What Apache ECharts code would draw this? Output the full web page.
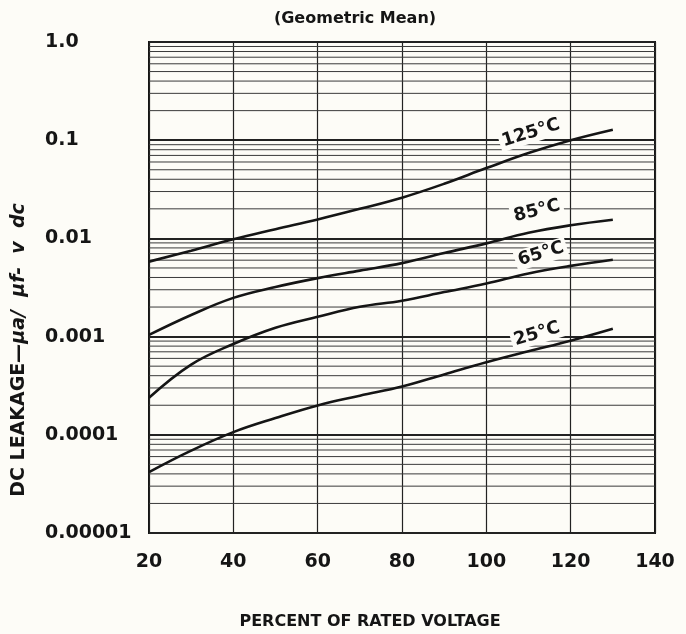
<!DOCTYPE html>
<html>
<head>
<meta charset="utf-8">
<script src="https://cdn.jsdelivr.net/npm/echarts@6/dist/echarts.min.js"></script>
<style>
  html, body { margin: 0; padding: 0; background: #fdfcf7; }
  #chart { width: 686px; height: 634px; }
</style>
</head>
<body>
<div id="chart"></div>
<script>
// ---- data ----
const voltage = [20, 30, 40, 50, 60, 70, 80, 90, 100, 110, 120, 130];
const leak125 = [0.0058, 0.0075, 0.0098, 0.0124, 0.0156, 0.020, 0.026, 0.036, 0.052, 0.074, 0.100, 0.128];
const leak85  = [0.00104, 0.00166, 0.00248, 0.0032, 0.00394, 0.0047, 0.0056, 0.0071, 0.0089, 0.0114, 0.0136, 0.0155];
const leak65  = [0.000238, 0.000518, 0.00084, 0.00123, 0.00159, 0.00201, 0.00232, 0.00284, 0.00347, 0.0044, 0.00525, 0.00605];
const leak25  = [0.0000417, 0.000069, 0.0001064, 0.000148, 0.000199, 0.00025, 0.00031, 0.000412, 0.000547, 0.000708, 0.000908, 0.0012];
const seriesNames = ['125°C', '85°C', '65°C', '25°C'];
const yTickLabels = ['0.00001', '0.0001', '0.001', '0.01', '0.1', '1.0'];
const decades = [0.00001, 0.0001, 0.001, 0.01, 0.1];
const minorSteps = [2, 3, 4, 5, 6, 7, 8, 9];
const xMin = 20, xMax = 140;

const FONT = '"DejaVu Sans", sans-serif';
const INK = '#151515';
const PAPER = '#fdfcf7';

function pairs(ys) { return voltage.map((x, i) => [x, ys[i]]); }

const series = [];
// minor graph-paper lines (2..9 within each decade), drawn through the log axis
decades.forEach(d => minorSteps.forEach(k => {
  const v = k * d;
  series.push({
    type: 'line', silent: true, showSymbol: false, symbol: 'none',
    lineStyle: { color: '#3a3a3a', width: 1 },
    data: [[xMin, v], [xMax, v]], z: 1
  });
}));
[leak125, leak85, leak65, leak25].forEach((ys, i) => series.push({
  name: seriesNames[i],
  type: 'line',
  smooth: 0.4,
  showSymbol: false,
  symbol: 'none',
  lineStyle: { color: INK, width: 2.6 },
  data: pairs(ys),
  z: 5
}));

const labelStyle = (t) => ({ text: t, fill: INK, font: 'bold 18px ' + FONT, align: 'center', verticalAlign: 'middle', backgroundColor: PAPER, padding: [1, 3] });

const chart = echarts.init(document.getElementById('chart'), null, { renderer: 'canvas' });
chart.setOption({
  animation: false,
  backgroundColor: PAPER,
  grid: { left: 149, right: 31, top: 42, bottom: 101, show: true, borderColor: INK, borderWidth: 2, backgroundColor: 'transparent' },
  xAxis: {
    type: 'value', min: xMin, max: xMax, interval: 20,
    axisLine: { show: false },
    axisTick: { show: false },
    axisLabel: { color: INK, fontFamily: FONT, fontWeight: 'bold', fontSize: 19, margin: 20 },
    splitLine: { show: true, lineStyle: { color: '#222', width: 1.2 } }
  },
  yAxis: {
    type: 'log', logBase: 10, min: 0.00001, max: 1, splitNumber: 5,
    axisLine: { show: false },
    axisTick: { show: false },
    axisLabel: {
      color: INK, fontFamily: FONT, fontWeight: 'bold', fontSize: 19, align: 'left', margin: 104,
      formatter: v => yTickLabels[Math.round(Math.log10(v)) + 5]
    },
    splitLine: { show: true, lineStyle: { color: '#222', width: 2 } }
  },
  series: series,
  graphic: [
    { type: 'text', x: 355, y: 19, style: { text: '(Geometric Mean)', fill: INK, font: 'bold 16px ' + FONT, align: 'center', verticalAlign: 'middle' } },
    { type: 'text', x: 370, y: 622, style: { text: 'PERCENT OF RATED VOLTAGE', fill: INK, font: 'bold 16px ' + FONT, align: 'center', verticalAlign: 'middle' } },
    { type: 'text', x: 19, y: 350, rotation: Math.PI / 2, style: {
        text: '{a|DC LEAKAGE}{b|—μa/  μf-  v  dc}', align: 'center', verticalAlign: 'middle',
        rich: {
          a: { fill: INK, font: 'bold 19px ' + FONT },
          b: { fill: INK, font: 'bold italic 19px ' + FONT }
        }
      } },
    { type: 'text', x: 531, y: 133, rotation: 0.30, z: 10, style: labelStyle(seriesNames[0]) },
    { type: 'text', x: 537, y: 211, rotation: 0.25, z: 10, style: labelStyle(seriesNames[1]) },
    { type: 'text', x: 541, y: 254, rotation: 0.29, z: 10, style: labelStyle(seriesNames[2]) },
    { type: 'text', x: 537, y: 334, rotation: 0.29, z: 10, style: labelStyle(seriesNames[3]) }
  ]
});
</script>
</body>
</html>
